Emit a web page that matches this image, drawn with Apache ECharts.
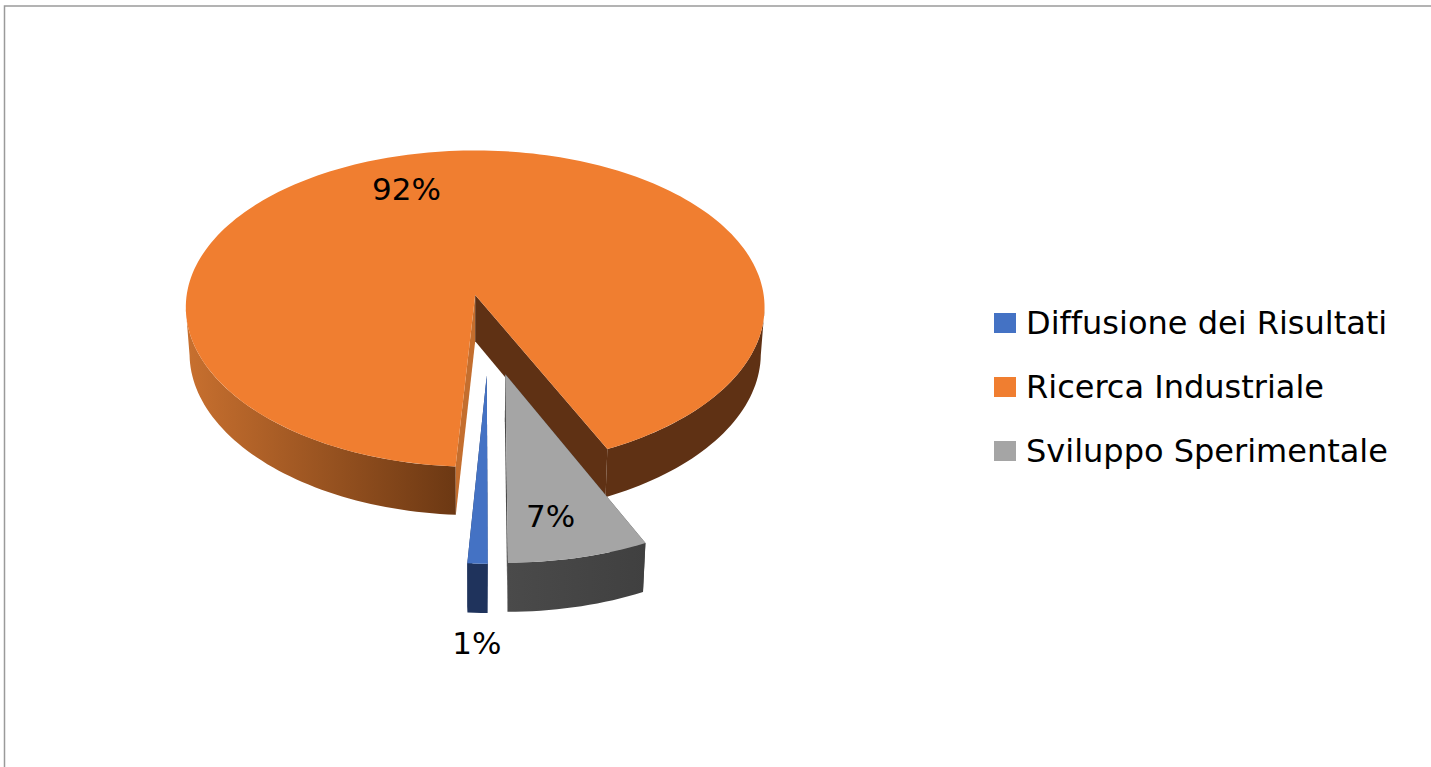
<!DOCTYPE html>
<html>
<head>
<meta charset="utf-8">
<style>html,body{margin:0;padding:0;background:#fff}#c{width:1431px;height:767px}#c svg text{font-variant-ligatures:none}</style>
<script src="https://cdn.jsdelivr.net/npm/echarts@6/dist/echarts.min.js"></script>
</head>
<body>
<div id="c"></div>
<script>
var categories = ['Diffusione dei Risultati', 'Ricerca Industriale', 'Sviluppo Sperimentale'];
var values = [1, 92, 7];
var topColors = ['#4472c4', '#f07e30', '#a5a5a5'];
var wallLeftColors = [['#1f335c', '#1f335c'], ['#c8702f', '#6c3813'], ['#4a4a4a', '#404040']];
var wallRightColors = [['#1f335c', '#1f335c'], ['#5f3114', '#5f3114'], ['#4a4a4a', '#404040']];
var cutLeftColors = ['#1f335c', '#c46e2e', '#4a4a4a'];
var cutRightColors = ['#1f335c', '#5f3114', '#4a4a4a'];
var labelPolar = [[181.4, 1.37], [340.7, 0.76], [170, 0.78]];

// projection of the pie disc
var FONT = '"DejaVu Sans", sans-serif';
var view = {ox: 475, oy: 295, rx: 288.5, ry: 157, k: 0.087, kx: 0.078, depth: 47, shrink: 0.013};
var hub = {u: 0.047, v: 0.2425};
var explode = 0.2475;
var startAngle = 180;

var total = values.reduce(function (a, b) { return a + b; }, 0);

function project(u, v, low) {
  var extra = low ? view.shrink : 0;
  return [
    view.ox + view.rx * u / (1 - view.kx * v + extra),
    view.oy + (view.ry * v + (low ? view.depth : 0)) / (1 - view.k * v + extra)
  ];
}
function dir(deg) {
  var t = deg * Math.PI / 180;
  return [Math.sin(t), -Math.cos(t)];
}
function arcPoints(apex, from, to, low) {
  var pts = [];
  var n = Math.max(2, Math.ceil((to - from) / 1.5));
  for (var i = 0; i <= n; i++) {
    var d = dir(from + (to - from) * i / n);
    pts.push(project(apex[0] + d[0], apex[1] + d[1], low));
  }
  return pts;
}
function wallPiece(apex, from, to, colors) {
  if (to - from <= 0) return null;
  var up = arcPoints(apex, from, to, false);
  var low = arcPoints(apex, from, to, true).reverse();
  return {
    type: 'polygon',
    shape: {points: up.concat(low)},
    style: {fill: new echarts.graphic.LinearGradient(0, 0, 1, 0, [
      {offset: 0, color: colors[0]}, {offset: 1, color: colors[1]}
    ])}
  };
}
function cutFace(apex, deg, fill) {
  var d = dir(deg);
  return {
    type: 'polygon',
    shape: {points: [
      project(apex[0], apex[1], false),
      project(apex[0] + d[0], apex[1] + d[1], false),
      project(apex[0] + d[0], apex[1] + d[1], true),
      project(apex[0], apex[1], true)
    ]},
    style: {fill: fill}
  };
}

function makeRender(index) {
  return function (params, api) {
    var value = api.value(0);
    var before = 0;
    for (var i = 0; i < index; i++) before += values[i];
    var from = startAngle + before / total * 360;
    var to = from + value / total * 360;
    var mid = (from + to) / 2;
    var m = dir(mid);
    var apex = [hub.u + explode * m[0], hub.v + explode * m[1]];
    var kids = [];
    kids.push(cutFace(apex, from, cutLeftColors[index]));
    kids.push(cutFace(apex, to, cutRightColors[index]));
    // outer wall: only the part turned to the viewer, between the rim's side extremes
    var ranges = [[95, 180, wallRightColors[index]], [180, 265, wallLeftColors[index]],
                  [455, 540, wallRightColors[index]], [540, 625, wallLeftColors[index]]];
    ranges.forEach(function (r) {
      var piece = wallPiece(apex, Math.max(from, r[0]), Math.min(to, r[1]), r[2]);
      if (piece) kids.push(piece);
    });
    var topPts = [project(apex[0], apex[1], false)].concat(arcPoints(apex, from, to, false));
    kids.push({type: 'polygon', shape: {points: topPts}, style: {fill: topColors[index]}});
    var lab = dir(labelPolar[index][0]);
    var lp = project(apex[0] + lab[0] * labelPolar[index][1], apex[1] + lab[1] * labelPolar[index][1], false);
    kids.push({
      type: 'text',
      z2: 10,
      style: {
        text: Math.round(value / total * 100) + '%',
        x: lp[0], y: lp[1], align: 'center', verticalAlign: 'middle',
        fill: '#000', font: '31px ' + FONT
      }
    });
    return {type: 'group', children: kids};
  };
}

var chart = echarts.init(document.getElementById('c'), null, {renderer: 'svg'});
chart.setOption({
  animation: false,
  backgroundColor: '#fff',
  color: topColors,
  legend: {
    data: categories,
    orient: 'vertical',
    left: 994,
    top: 307,
    padding: 0,
    icon: 'rect',
    itemWidth: 22,
    itemHeight: 20,
    itemGap: 32,
    selectedMode: false,
    textStyle: {fontFamily: FONT, fontSize: 32, color: '#000', padding: [0, 0, 0, 5]}
  },
  graphic: [{
    type: 'polyline',
    shape: {points: [[4.5, 767], [4.5, 6], [1431, 6]]},
    style: {stroke: '#9a9a9a', lineWidth: 1.5, fill: null},
    silent: true
  }],
  series: categories.map(function (name, i) {
    return {
      type: 'custom',
      name: name,
      coordinateSystem: 'none',
      z: i === 1 ? 1 : 2,
      itemStyle: {color: topColors[i]},
      renderItem: makeRender(i),
      data: [[values[i]]]
    };
  })
});
</script>
</body>
</html>
